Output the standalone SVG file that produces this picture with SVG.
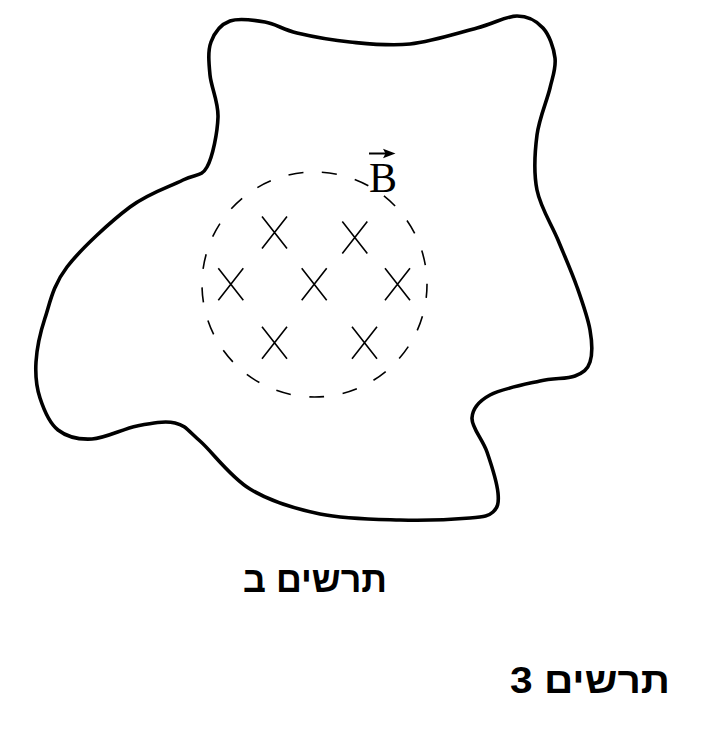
<svg xmlns="http://www.w3.org/2000/svg" width="723" height="738" viewBox="0 0 723 738">
<style>
.outline{fill:none;stroke:#000;stroke-width:3.6;stroke-linejoin:round}
.field{fill:none;stroke:#000;stroke-width:1.6;stroke-dasharray:15 18.66;stroke-dashoffset:1.5}
.x{stroke:#000;stroke-width:1.6;fill:none}
.cap{font-family:"Liberation Sans","DejaVu Sans",sans-serif;font-weight:bold;font-size:36px;fill:#000}
.sym{font-family:"Liberation Serif","DejaVu Serif",serif;font-size:42px;fill:#000}
</style>
<defs>
<path id="xm" d="M-12.5,-16 L12.5,16 M-12.5,16 L12.5,-16"/>
</defs>
<rect width="723" height="738" fill="#fff"/>
<g id="region">
<path class="outline" d="M230,21 C239,17.7 253.8,20 265,22 C276.2,24 282.8,29.7 297,33 C311.2,36.3 331.2,40.2 350,42 C368.8,43.8 388.8,46.3 410,44 C431.2,41.7 459.2,32.7 477,28 C494.8,23.3 506,16 517,16 C528,16 536.7,21 543,28 C549.3,35 553.8,48 555,58 C556.2,68 553,75.2 550,88 C547,100.8 539.2,118 537,135 C534.8,152 533.5,172.5 537,190 C540.5,207.5 551.3,223.8 558,240 C564.7,256.2 571.7,272 577,287 C582.3,302 587.8,317.5 590,330 C592.2,342.5 592.5,354.3 590,362 C587.5,369.7 583.3,372.8 575,376 C566.7,379.2 554.2,377.8 540,381 C525.8,384.2 501.3,388.8 490,395 C478.7,401.2 472.5,408.5 472,418 C471.5,427.5 482.7,439.5 487,452 C491.3,464.5 497,483 498,493 C499,503 497.7,507.8 493,512 C488.3,516.2 485.5,516.7 470,518 C454.5,519.3 425,520.7 400,520 C375,519.3 345,519.2 320,514 C295,508.8 270,501.2 250,489 C230,476.8 212.5,452 200,441 C187.5,430 185.5,425.5 175,423 C164.5,420.5 150.8,423.3 137,426 C123.2,428.7 105.2,438.3 92,439 C78.8,439.7 66.7,436.8 58,430 C49.3,423.2 43.7,409.3 40,398 C36.3,386.7 35.2,375.3 36,362 C36.8,348.7 39.8,333.8 45,318 C50.2,302.2 52.8,285.5 67,267 C81.2,248.5 110.7,221.5 130,207 C149.3,192.5 170.2,186.7 183,180 C195.8,173.3 201.2,177.5 207,167 C212.8,156.5 217.5,132.3 218,117 C218.5,101.7 211.2,87.5 210,75 C208.8,62.5 207.7,51 211,42 C214.3,33 221,24.3 230,21 Z"/>
</g>
<g id="field">
<circle class="field" cx="314.5" cy="284.5" r="112.5"/>
<g class="x">
<use href="#xm" x="274.5" y="232.5"/>
<use href="#xm" x="354.8" y="237.5"/>
<use href="#xm" x="230.8" y="284.2"/>
<use href="#xm" x="314.2" y="284.2"/>
<use href="#xm" x="397.5" y="284.2"/>
<use href="#xm" x="274.5" y="342.8"/>
<use href="#xm" x="364.5" y="342.8"/>
</g>
</g>
<g id="label-B">
<text class="sym" x="369" y="192">B</text>
<line x1="369" y1="153.5" x2="388" y2="153.5" stroke="#000" stroke-width="2"/>
<polygon points="395.5,153.5 383,148.8 385.5,153.5 383,158.2" fill="#000"/>
</g>
<g id="caption-b">
<text class="cap" x="315" y="592" text-anchor="middle" direction="rtl" textLength="144" lengthAdjust="spacingAndGlyphs">תרשים ב</text>
</g>
<g id="caption-3">
<text class="cap" x="590" y="693" text-anchor="middle" direction="rtl" textLength="160" lengthAdjust="spacingAndGlyphs">תרשים 3</text>
</g>
</svg>
